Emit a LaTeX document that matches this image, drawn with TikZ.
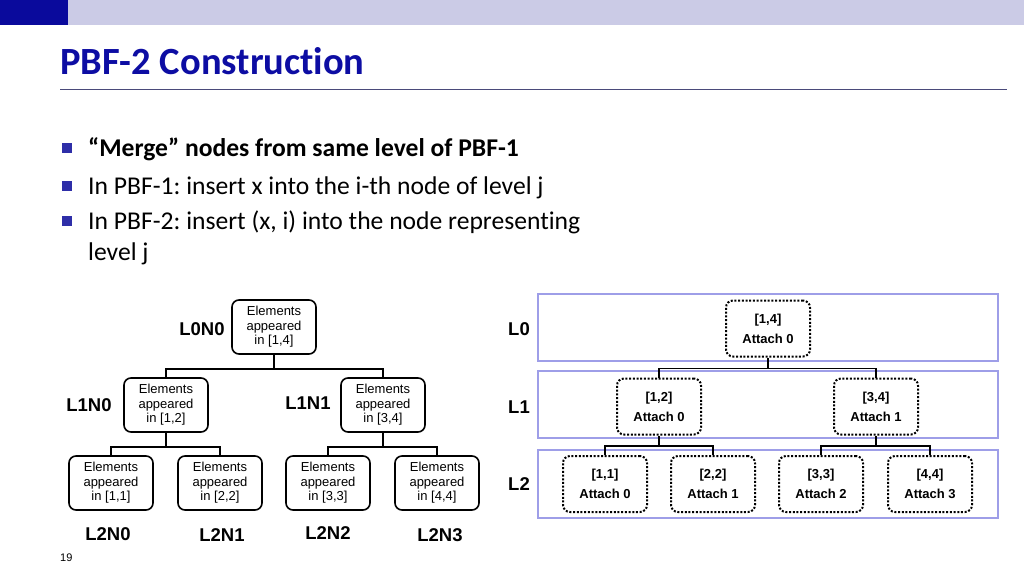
\documentclass[tikz,border=0pt]{standalone}
\usepackage{fontspec}
\setmainfont{Carlito}[Ligatures=NoCommon]
\newfontfamily\arialf{Liberation Sans}
\frenchspacing
\definecolor{barlight}{HTML}{CBCBE6}
\definecolor{bardark}{HTML}{0A0A9C}
\definecolor{titleblue}{HTML}{0D0DA3}
\definecolor{rulecol}{HTML}{4A4A7A}
\definecolor{bulletblue}{HTML}{2E2EA8}
\definecolor{lav}{HTML}{9E9EE8}
\tikzset{
  elem/.style={draw, line width=1.6pt, rounded corners=7pt, minimum width=84pt, minimum height=54pt, inner sep=0pt, align=center, font=\arialf\fontsize{13}{14.5}\selectfont},
  att/.style={draw, dash pattern=on 2pt off 1.7pt, line width=2pt, rounded corners=7pt, minimum width=84pt, minimum height=56pt, inner sep=0pt, align=center, font=\arialf\bfseries\fontsize{13}{20}\selectfont},
  lab/.style={font=\arialf\bfseries\fontsize{18.5}{20}\selectfont, inner sep=0pt},
  conn/.style={line width=1.6pt},
  lvl/.style={draw=lav, line width=1.8pt},
  btxt/.style={anchor=base west, inner sep=0pt, font=\fontsize{25.6}{28}\selectfont},
  bsq/.style={fill=bulletblue, minimum size=10pt, inner sep=0pt},
}
\begin{document}
\begin{tikzpicture}[x=1pt,y=-1pt]
\useasboundingbox (0,0) rectangle (1024,576);
% header
\fill[barlight] (0,0) rectangle (1024,25);
\fill[bardark] (0,0) rectangle (68,25);
\node[anchor=base west, inner sep=0pt, text=titleblue, font=\bfseries\fontsize{38.5}{40}\selectfont] (title) at (60,74) {PBF-2 Construction};
\draw[rulecol, line width=0.9pt] (60,89) -- (1007,89);
% bullets
\node[bsq] (s1) at (67,148) {};
\node[btxt, font=\bfseries\fontsize{25.6}{28}\selectfont] (b1) at (88,156) {“Merge” nodes from same level of PBF-1};
\node[bsq] (s2) at (67,186) {};
\node[btxt] (b2) at (88,194) {In PBF-1: insert x into the i-th node of level j};
\node[bsq] (s3) at (67,221) {};
\node[btxt] (b3) at (88,229) {In PBF-2: insert (x, i) into the node representing};
\node[btxt] (b4) at (88,260) {level j};
% left tree
\node[elem] (n00) at (274,327) {Elements\\appeared\\in [1,4]};
\node[elem] (n10) at (166,405) {Elements\\appeared\\in [1,2]};
\node[elem] (n11) at (383,405) {Elements\\appeared\\in [3,4]};
\node[elem] (n20) at (111,483) {Elements\\appeared\\in [1,1]};
\node[elem] (n21) at (220,483) {Elements\\appeared\\in [2,2]};
\node[elem] (n22) at (328,483) {Elements\\appeared\\in [3,3]};
\node[elem] (n23) at (437,483) {Elements\\appeared\\in [4,4]};
\draw[conn] (n00.south) -- ++(0,14) -| (n10.north);
\draw[conn] (n00.south) ++(0,14) -| (n11.north);
\draw[conn] (n10.south) -- ++(0,14) -| (n20.north);
\draw[conn] (n10.south) ++(0,14) -| (n21.north);
\draw[conn] (n11.south) -- ++(0,14) -| (n22.north);
\draw[conn] (n11.south) ++(0,14) -| (n23.north);
\node[lab] (l00) at (202,329) {L0N0};
\node[lab] (l10) at (89,405) {L1N0};
\node[lab] (l11) at (308,403) {L1N1};
\node[lab] (l20) at (108,534) {L2N0};
\node[lab] (l21) at (222,535) {L2N1};
\node[lab] (l22) at (328,533) {L2N2};
\node[lab] (l23) at (440,535) {L2N3};
\node[anchor=base west, inner sep=0pt, font=\arialf\fontsize{11}{12}\selectfont] (pg) at (60,561) {19};
% right panel
\draw[lvl] (538,294) rectangle (998,361);
\draw[lvl] (538,371) rectangle (998,438);
\draw[lvl] (538,450) rectangle (998,518);
\node[lab] (r0) at (519,329) {L0};
\node[lab] (r1) at (519,407) {L1};
\node[lab] (r2) at (519,484) {L2};
\node[att] (a0) at (768,328.5) {[1,4]\\Attach 0};
\node[att] (a10) at (659,406.5) {[1,2]\\Attach 0};
\node[att] (a11) at (876,406.5) {[3,4]\\Attach 1};
\node[att] (a20) at (605,484) {[1,1]\\Attach 0};
\node[att] (a21) at (713,484) {[2,2]\\Attach 1};
\node[att] (a22) at (821,484) {[3,3]\\Attach 2};
\node[att] (a23) at (930,484) {[4,4]\\Attach 3};
\draw[conn] (a0.south) -- ++(0,11) -| (a10.north);
\draw[conn] (a0.south) ++(0,11) -| (a11.north);
\draw[conn] (a10.south) -- ++(0,10.5) -| (a20.north);
\draw[conn] (a10.south) ++(0,10.5) -| (a21.north);
\draw[conn] (a11.south) -- ++(0,10.5) -| (a22.north);
\draw[conn] (a11.south) ++(0,10.5) -| (a23.north);
\end{tikzpicture}
\end{document}
